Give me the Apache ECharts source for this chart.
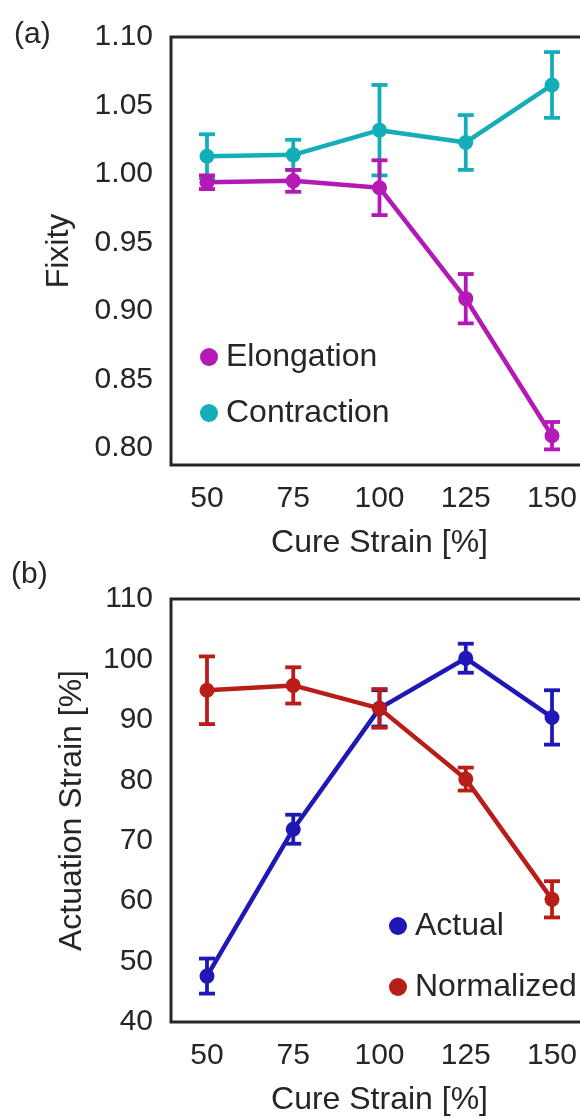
<!DOCTYPE html>
<html>
<head>
<meta charset="utf-8">
<script src="https://cdn.jsdelivr.net/npm/echarts@6/dist/echarts.min.js"></script>
<style>
  html, body { margin: 0; padding: 0; overflow: hidden; background: #fff; }
  #chart { width: 600px; height: 1117px; }
</style>
</head>
<body>
<div id="chart"></div>
<script>
// x values shared by both panels
const cureStrain = [50, 75, 100, 125, 150];

// (a) fixity
const elongation = [0.994, 0.995, 0.990, 0.909, 0.809];
const elongationErr = [0.005, 0.008, 0.020, 0.018, 0.010];
const contraction = [1.013, 1.014, 1.032, 1.023, 1.065];
const contractionErr = [0.016, 0.011, 0.033, 0.020, 0.024];
const fixityTicks = [0.80, 0.85, 0.90, 0.95, 1.00, 1.05, 1.10];

// (b) actuation strain
const actual = [47.6, 71.9, 91.9, 100.2, 90.4];
const actualErr = [2.9, 2.4, 3.0, 2.4, 4.5];
const normalized = [94.9, 95.7, 91.9, 80.2, 60.3];
const normalizedErr = [5.6, 3.0, 3.2, 1.9, 3.0];
const strainTicks = [40, 50, 60, 70, 80, 90, 100, 110];

const FONT = "'Liberation Sans', Arial, Helvetica, sans-serif";
const INK = '#262626';
const MAGENTA = '#b31ab5';
const CYAN = '#14aeb8';
const BLUE = '#1f18b6';
const RED = '#b81d17';

function pts(vals) {
  return cureStrain.map((x, i) => [x, vals[i]]);
}
function errs(vals, e) {
  return cureStrain.map((x, i) => [x, vals[i] - e[i], vals[i] + e[i]]);
}

// vertical error bar with caps
function errRender(params, api) {
  const x = api.value(0);
  const top = api.coord([x, api.value(2)]);
  const bot = api.coord([x, api.value(1)]);
  const hw = 8;
  const style = { stroke: api.visual('color'), lineWidth: 3.8 };
  return {
    type: 'group',
    children: [
      { type: 'line', shape: { x1: top[0], y1: top[1], x2: bot[0], y2: bot[1] }, style: style },
      { type: 'line', shape: { x1: top[0] - hw, y1: top[1], x2: top[0] + hw, y2: top[1] }, style: style },
      { type: 'line', shape: { x1: bot[0] - hw, y1: bot[1], x2: bot[0] + hw, y2: bot[1] }, style: style }
    ]
  };
}

function errSeries(name, idx, vals, e, color) {
  return {
    name: name,
    type: 'custom',
    xAxisIndex: idx,
    yAxisIndex: idx,
    renderItem: errRender,
    itemStyle: { color: color },
    encode: { x: 0, y: [1, 2] },
    data: errs(vals, e),
    silent: true
  };
}

function lineSeries(name, idx, vals, color) {
  return {
    name: name,
    type: 'line',
    xAxisIndex: idx,
    yAxisIndex: idx,
    data: pts(vals),
    symbol: 'circle',
    symbolSize: 15,
    itemStyle: { color: color },
    lineStyle: { color: color, width: 4.5 },
    silent: true
  };
}

function xAxis(idx) {
  return {
    type: 'value',
    gridIndex: idx,
    min: 39.57,
    max: 160.43,
    axisLine: { show: false },
    axisTick: { show: false },
    splitLine: { show: false },
    axisLabel: {
      customValues: cureStrain,
      fontSize: 30, fontFamily: FONT, color: INK, margin: 19
    },
    name: 'Cure Strain [%]',
    nameLocation: 'middle',
    nameGap: 62,
    nameTextStyle: { fontSize: 32, fontFamily: FONT, color: INK }
  };
}

const chart = echarts.init(document.getElementById('chart'));
chart.setOption({
  animation: false,
  backgroundColor: '#fff',
  textStyle: { fontFamily: FONT },
  graphic: [
    { type: 'text', left: 14, top: 20, style: { text: '(a)', font: '30px ' + FONT, fill: INK } },
    { type: 'text', left: 11, top: 560, style: { text: '(b)', font: '30px ' + FONT, fill: INK } }
  ],
  grid: [
    { left: 171, top: 37, width: 417, height: 428, show: true, borderColor: INK, borderWidth: 3 },
    { left: 171, top: 599, width: 417, height: 429, show: true, borderColor: INK, borderWidth: 3 }
  ],
  legend: [
    {
      data: ['Elongation', 'Contraction'],
      orient: 'vertical', left: 195, top: 336,
      icon: 'circle', itemWidth: 24, itemHeight: 18, itemGap: 24,
      textStyle: { fontSize: 32, fontFamily: FONT, color: INK },
      selectedMode: false
    },
    {
      data: ['Actual', 'Normalized'],
      orient: 'vertical', left: 384, top: 905,
      icon: 'circle', itemWidth: 24, itemHeight: 18, itemGap: 29,
      textStyle: { fontSize: 32, fontFamily: FONT, color: INK },
      selectedMode: false
    }
  ],
  xAxis: [xAxis(0), xAxis(1)],
  yAxis: [
    {
      type: 'value',
      gridIndex: 0,
      min: 0.7876,
      max: 1.10,
      axisLine: { show: false },
      axisTick: { show: false },
      splitLine: { show: false },
      axisLabel: {
        customValues: fixityTicks,
        formatter: v => v.toFixed(2),
        fontSize: 30, fontFamily: FONT, color: INK, margin: 18
      },
      name: 'Fixity',
      nameLocation: 'middle',
      nameGap: 96,
      nameTextStyle: { fontSize: 32, fontFamily: FONT, color: INK }
    },
    {
      type: 'value',
      gridIndex: 1,
      min: 40,
      max: 110,
      axisLine: { show: false },
      axisTick: { show: false },
      splitLine: { show: false },
      axisLabel: {
        customValues: strainTicks,
        fontSize: 30, fontFamily: FONT, color: INK, margin: 18
      },
      name: 'Actuation Strain [%]',
      nameLocation: 'middle',
      nameGap: 83,
      nameTextStyle: { fontSize: 32, fontFamily: FONT, color: INK }
    }
  ],
  series: [
    errSeries('Contraction err', 0, contraction, contractionErr, CYAN),
    lineSeries('Contraction', 0, contraction, CYAN),
    errSeries('Elongation err', 0, elongation, elongationErr, MAGENTA),
    lineSeries('Elongation', 0, elongation, MAGENTA),
    errSeries('Actual err', 1, actual, actualErr, BLUE),
    lineSeries('Actual', 1, actual, BLUE),
    errSeries('Normalized err', 1, normalized, normalizedErr, RED),
    lineSeries('Normalized', 1, normalized, RED)
  ]
});
</script>
</body>
</html>
